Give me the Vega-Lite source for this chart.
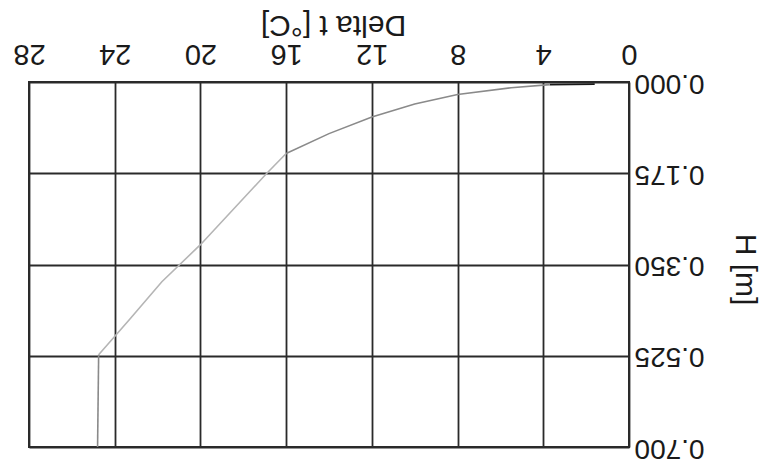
{
  "$schema": "https://vega.github.io/schema/vega-lite/v6.json",
  "autosize": {"type": "none"},
  "width": 600,
  "height": 365,
  "padding": {"left": 29, "top": 82, "right": 134, "bottom": 26},
  "background": "white",
  "config": {
    "view": {"stroke": "#2a2a2a", "strokeWidth": 2},
    "font": "Liberation Sans"
  },
  "data": {
    "values": [
      {"dt": 1.6, "h": 0.004, "s": "top", "o": 1},
      {"dt": 3.7, "h": 0.005, "s": "top", "o": 2},
      {"dt": 3.7, "h": 0.005, "s": "upper", "o": 1},
      {"dt": 5.5, "h": 0.011, "s": "upper", "o": 2},
      {"dt": 8.0, "h": 0.024, "s": "upper", "o": 3},
      {"dt": 10.0, "h": 0.042, "s": "upper", "o": 4},
      {"dt": 12.0, "h": 0.067, "s": "upper", "o": 5},
      {"dt": 14.0, "h": 0.099, "s": "upper", "o": 6},
      {"dt": 16.0, "h": 0.137, "s": "upper", "o": 7},
      {"dt": 16.0, "h": 0.137, "s": "lower", "o": 1},
      {"dt": 16.9, "h": 0.175, "s": "lower", "o": 2},
      {"dt": 20.0, "h": 0.312, "s": "lower", "o": 3},
      {"dt": 21.8, "h": 0.383, "s": "lower", "o": 4},
      {"dt": 23.3, "h": 0.455, "s": "lower", "o": 5},
      {"dt": 24.75, "h": 0.523, "s": "lower", "o": 6},
      {"dt": 24.75, "h": 0.523, "s": "drop", "o": 1},
      {"dt": 24.8, "h": 0.7, "s": "drop", "o": 2}
    ]
  },
  "mark": {"type": "line", "strokeWidth": 1.6, "clip": true},
  "encoding": {
    "x": {
      "field": "dt",
      "type": "quantitative",
      "scale": {"domain": [0, 28], "reverse": true, "nice": false, "zero": false},
      "axis": {
        "orient": "top",
        "values": [0, 4, 8, 12, 16, 20, 24, 28],
        "grid": true,
        "gridColor": "#2a2a2a",
        "gridWidth": 1.8,
        "gridOpacity": 1,
        "domain": false,
        "ticks": false,
        "tickSize": 0,
        "labelAngle": 180,
        "labelAlign": "center",
        "labelBaseline": "top",
        "labelPadding": 15,
        "labelFontSize": 29,
        "labelColor": "#1a1a1a",
        "labelFlush": false,
        "labelOverlap": false,
        "labelBound": false,
        "title": "Delta t [°C]",
        "titleAngle": 180,
        "titleAlign": "center",
        "titleBaseline": "top",
        "titleX": 304,
        "titleY": -43,
        "titleFontSize": 30,
        "titleFontWeight": "normal",
        "titleColor": "#1a1a1a"
      }
    },
    "y": {
      "field": "h",
      "type": "quantitative",
      "scale": {"domain": [0, 0.7], "reverse": true, "nice": false, "zero": false},
      "axis": {
        "orient": "right",
        "values": [0, 0.175, 0.35, 0.525, 0.7],
        "format": ".3f",
        "grid": true,
        "gridColor": "#2a2a2a",
        "gridWidth": 1.8,
        "gridOpacity": 1,
        "domain": false,
        "ticks": false,
        "tickSize": 0,
        "labelAngle": 180,
        "labelAlign": "right",
        "labelBaseline": "middle",
        "labelPadding": 5,
        "labelFontSize": 28,
        "labelColor": "#1a1a1a",
        "labelFlush": false,
        "labelOverlap": false,
        "labelBound": false,
        "title": "H [m]",
        "titleAngle": 90,
        "titleAlign": "center",
        "titleBaseline": "middle",
        "titleX": 115,
        "titleY": 187,
        "titleFontSize": 30,
        "titleFontWeight": "normal",
        "titleColor": "#1a1a1a"
      }
    },
    "order": {"field": "o", "type": "quantitative"},
    "color": {
      "field": "s",
      "type": "nominal",
      "scale": {"domain": ["top", "upper", "lower", "drop"], "range": ["#1a1a1a", "#8a8a8a", "#b5b5b5", "#8a8a8a"]},
      "legend": null
    },
    "strokeWidth": {
      "field": "s",
      "type": "nominal",
      "scale": {"domain": ["top", "upper", "lower", "drop"], "range": [2.6, 1.6, 1.6, 1.6]},
      "legend": null
    }
  }
}
